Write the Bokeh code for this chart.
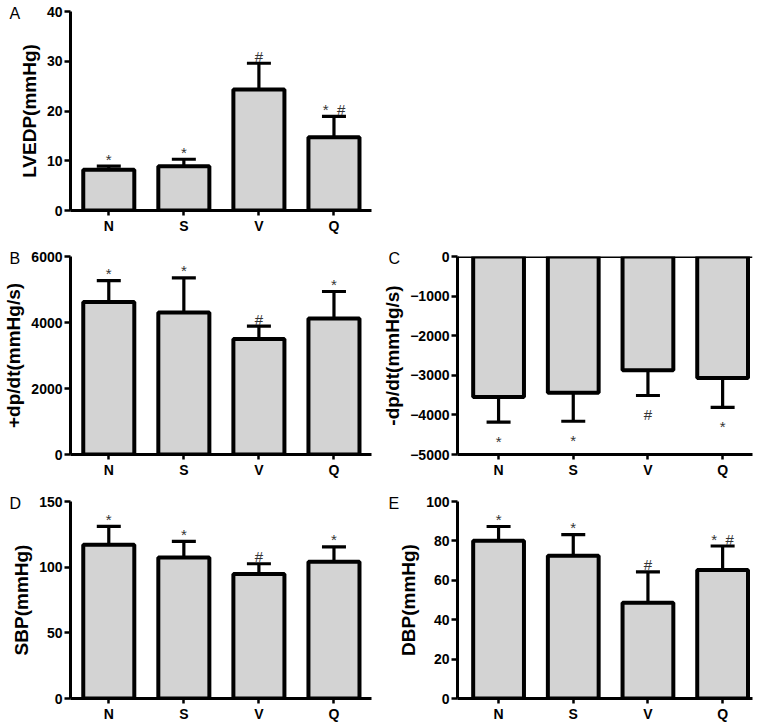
from bokeh.plotting import figure
from bokeh.models import Range1d, FixedTicker, Span, ColumnDataSource
from bokeh.layouts import column, row
from bokeh.embed import file_html
from bokeh.resources import INLINE
from bokeh.core.properties import value

groups = ["N", "S", "V", "Q"]
positions = [0, 1, 2, 3]

lvedp_mean = [8.2, 8.9, 24.3, 14.7]
lvedp_err = [0.7, 1.4, 5.3, 4.2]
lvedp_marks = ["*", "*", "#", "*\u00a0\u00a0#"]
lvedp_ticks = [0, 10, 20, 30, 40]

pdp_mean = [4620, 4300, 3500, 4120]
pdp_err = [650, 1050, 390, 820]
pdp_marks = ["*", "*", "#", "*"]
pdp_ticks = [0, 2000, 4000, 6000]

ndp_mean = [-3550, -3440, -2870, -3070]
ndp_err = [630, 720, 640, 740]
ndp_marks = ["*", "*", "#", "*"]
ndp_ticks = [-5000, -4000, -3000, -2000, -1000, 0]

sbp_mean = [117, 107.4, 94.8, 104.2]
sbp_err = [14, 12.2, 7.8, 11.3]
sbp_marks = ["*", "*", "#", "*"]
sbp_ticks = [0, 50, 100, 150]

dbp_mean = [80.1, 72.5, 48.6, 65.2]
dbp_err = [7.2, 10.7, 15.7, 12.2]
dbp_marks = ["*", "*", "#", "*\u00a0\u00a0#"]
dbp_ticks = [0, 20, 40, 60, 80, 100]

FONT = "Liberation Sans"
BAR_FILL = "#d3d3d3"
FRAME_H = 199


def panel(letter, ylabel, mean, err, marks, ticks, left_col, h, bt, down=False):
    if left_col:
        xr = Range1d(-0.51, 3.5)
        bl, fw, w = 70, 301, 375
        lx = 9
    else:
        xr = Range1d(-0.55, 3.4)
        bl, fw, w = 82, 295, 388
        lx = 13
    br = w - bl - fw
    bb = h - bt - FRAME_H
    yr = Range1d(min(ticks), max(ticks))
    p = figure(width=w, height=h, x_range=xr, y_range=yr,
               output_backend="svg", toolbar_location=None,
               min_border_left=bl, min_border_right=br,
               min_border_top=bt, min_border_bottom=bb)
    p.outline_line_color = None
    p.grid.visible = False

    # panel letter as the plot title, pulled left of the y axis
    p.title.text = letter
    p.title.align = "left"
    p.title.offset = lx - bl
    p.title.standoff = -20
    p.title.vertical_align = "bottom"
    p.title.text_font = FONT
    p.title.text_font_style = "normal"
    p.title.text_font_size = "16px"
    p.title.text_color = "black"

    tips = [m - e if down else m + e for m, e in zip(mean, err)]
    src = ColumnDataSource(dict(x=positions, top=mean, tip=tips, mark=marks))
    p.segment(x0="x", y0="top", x1="x", y1="tip", source=src,
              line_color="black", line_width=3.2)
    p.scatter(x="x", y="tip", marker="dash", size=24, source=src,
              line_color="black", line_width=3.2)
    p.vbar(x="x", top="top", bottom=0, width=0.68, source=src,
           fill_color=BAR_FILL, line_color="black", line_width=4)
    p.text(x="x", y="tip", text="mark", source=src, text_align="center",
           text_baseline="alphabetic", y_offset=(19 if down else -7),
           text_font_size="15px", text_color="#333333",
           text_font=value(FONT))

    if down:
        p.add_layout(Span(location=0, dimension="width", line_color="black",
                          line_width=3))

    xa = p.xaxis[0]
    xa.ticker = FixedTicker(ticks=positions)
    xa.major_label_overrides = {i: g for i, g in zip(positions, groups)}
    xa.major_tick_out = 5
    xa.major_tick_in = 0
    xa.minor_tick_line_color = None
    xa.axis_line_width = 3
    xa.major_tick_line_width = 2.5
    xa.major_label_standoff = 2
    xa.major_label_text_font = FONT
    xa.major_label_text_font_style = "bold"
    xa.major_label_text_font_size = "14px"
    xa.major_label_text_color = "black"

    ya = p.yaxis[0]
    ya.ticker = FixedTicker(ticks=ticks)
    ya.major_tick_out = 6
    ya.major_tick_in = 0
    ya.minor_tick_line_color = None
    ya.axis_line_width = 3
    ya.major_tick_line_width = 2.5
    ya.major_label_standoff = 2
    ya.major_label_text_font = FONT
    ya.major_label_text_font_style = "bold"
    ya.major_label_text_font_size = "14px"
    ya.major_label_text_color = "black"
    ya.axis_label = ylabel
    ya.axis_label_standoff = 4
    ya.axis_label_text_font = FONT
    ya.axis_label_text_font_style = "bold"
    ya.axis_label_text_font_size = "19px"
    ya.axis_label_text_color = "black"
    return p


pa = panel("A", "LVEDP(mmHg)", lvedp_mean, lvedp_err, lvedp_marks, lvedp_ticks, True, 245, 11)
pb = panel("B", "+dp/dt(mmHg/s)", pdp_mean, pdp_err, pdp_marks, pdp_ticks, True, 245, 11)
pc = panel("C", "-dp/dt(mmHg/s)", ndp_mean, ndp_err, ndp_marks, ndp_ticks, False, 245, 10, down=True)
pd_ = panel("D", "SBP(mmHg)", sbp_mean, sbp_err, sbp_marks, sbp_ticks, True, 236, 11)
pe = panel("E", "DBP(mmHg)", dbp_mean, dbp_err, dbp_marks, dbp_ticks, False, 236, 9)

layout = column(pa, row(pb, pc), row(pd_, pe))

open("out.html", "w").write(file_html(layout, INLINE))
